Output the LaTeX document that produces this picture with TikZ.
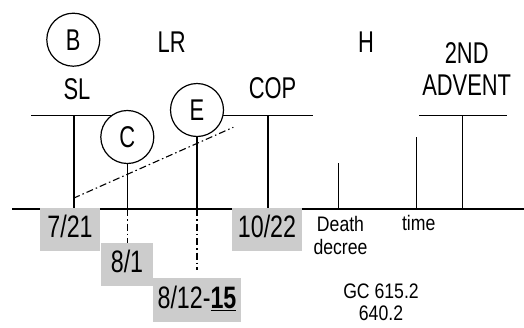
\documentclass[tikz,border=0pt]{standalone}
\usepackage{fontspec}
\setmainfont{Liberation Sans}[FakeStretch=0.73]
\newfontfamily\datefont{Liberation Sans}[FakeStretch=0.75]
\newfontfamily\notefont{Liberation Sans}[FakeStretch=0.84]
\usetikzlibrary{backgrounds}
\definecolor{boxgray}{HTML}{CCCCCC}
\newcommand\biglabel{\fontsize{30}{32}\selectfont}
\newcommand\datelabel{\datefont\fontsize{31}{33}\selectfont}
\newcommand\notelabel{\notefont\fontsize{21}{23}\selectfont}
\begin{document}
\begin{tikzpicture}[x=1pt,y=-1pt,
  rule/.style={line width=1.3pt},
  dashdotline/.style={line width=1.1pt, dash pattern=on 7pt off 3pt on 1.5pt off 3pt},
  circ/.style={circle, draw, line width=1.2pt, fill=white, minimum size=53pt, inner sep=0pt, font=\biglabel},
  lbl/.style={inner sep=0pt, font=\biglabel, anchor=base},
  datebox/.style={fill=boxgray, inner sep=0pt, font=\datelabel, text height=21pt, text depth=5pt},
  note/.style={inner sep=0pt, font=\notelabel, align=center}
]
\useasboundingbox (0,0) rectangle (524,327);

% period circles
\node[circ] (B) at (73.3,39.7) {B};
\node[circ] (C) at (127.3,137) {C};
\node[circ] (E) at (197,110) {E};

% date boxes under the time line
\node[datebox, minimum width=60pt, minimum height=43pt] (d721) at (70,229.5) {7/21};
\node[datebox, minimum width=52pt, minimum height=43pt] (d81) at (127,264.5) {8/1};
\node[datebox, minimum width=88pt, minimum height=44pt] (d812) at (197,300) {8/12-\underline{\textbf{15}}};
\node[datebox, minimum width=70pt, minimum height=43pt] (d1022) at (267,229.5) {10/22};

% labels
\node[lbl] (LR) at (171.7,52.7) {LR};
\node[lbl] (SL) at (77,99.2) {SL};
\node[lbl] (COP) at (272.5,98.3) {COP};
\node[lbl] (H) at (366,52.5) {H};
\node[inner sep=0pt, font=\biglabel, align=center, anchor=north] (adv) at (466.7,42.5) {2ND\\ADVENT};
\node[note, anchor=north] (death) at (340.5,216) {Death\\decree};
\node[note, anchor=base] (time) at (418.7,230.6) {time};
\node[note, anchor=north, font=\notefont\fontsize{21}{22}\selectfont] (gc) at (381,284) {GC 615.2\\640.2};

% line end points
\coordinate (baseW) at (12,209);
\coordinate (baseE) at (524,209);
\coordinate (slW) at (31,115.7);
\coordinate (slTop) at (74,115.7);
\coordinate (slFoot) at (74,209);
\coordinate (copE) at (313,115.7);
\coordinate (copTop) at (268,115.7);
\coordinate (deathTop) at (338.7,163);
\coordinate (timeTop) at (416.3,137);
\coordinate (advW) at (419.3,115.7);
\coordinate (advE) at (507.3,115.7);
\coordinate (advTop) at (462.3,115.7);
\coordinate (diagA) at (73.3,198.3);
\coordinate (diagB) at (233.3,127.3);
\coordinate (eEnd) at (198,270);

\begin{scope}[on background layer]
  % time line
  \draw[rule] (baseW) -- (baseE);
  % SL bracket
  \draw[rule] (slW) -- (C.center |- slW);
  \draw[rule] (slTop) -- (slFoot);
  % C and E drops
  \draw[rule] (C.center) -- (C.center |- baseW);
  \draw[dashdotline] (C.center |- baseW) -- (C.center |- d81.north);
  \draw[rule] (E.center) -- (E.center |- baseW);
  \draw[dashdotline] (E.center |- baseW) -- (E.center |- eEnd);
  % COP bracket
  \draw[rule] (E.center |- copE) -- (copE);
  \draw[rule] (copTop) -- (copTop |- baseW);
  % death decree and time ticks
  \draw[rule] (deathTop) -- (deathTop |- baseW);
  \draw[rule] (timeTop) -- (timeTop |- baseW);
  % second advent bracket
  \draw[rule] (advW) -- (advE);
  \draw[rule] (advTop) -- (advTop |- baseW);
  % diagonal dash-dot
  \draw[dashdotline] (diagA) -- (diagB);
\end{scope}
\end{tikzpicture}
\end{document}
